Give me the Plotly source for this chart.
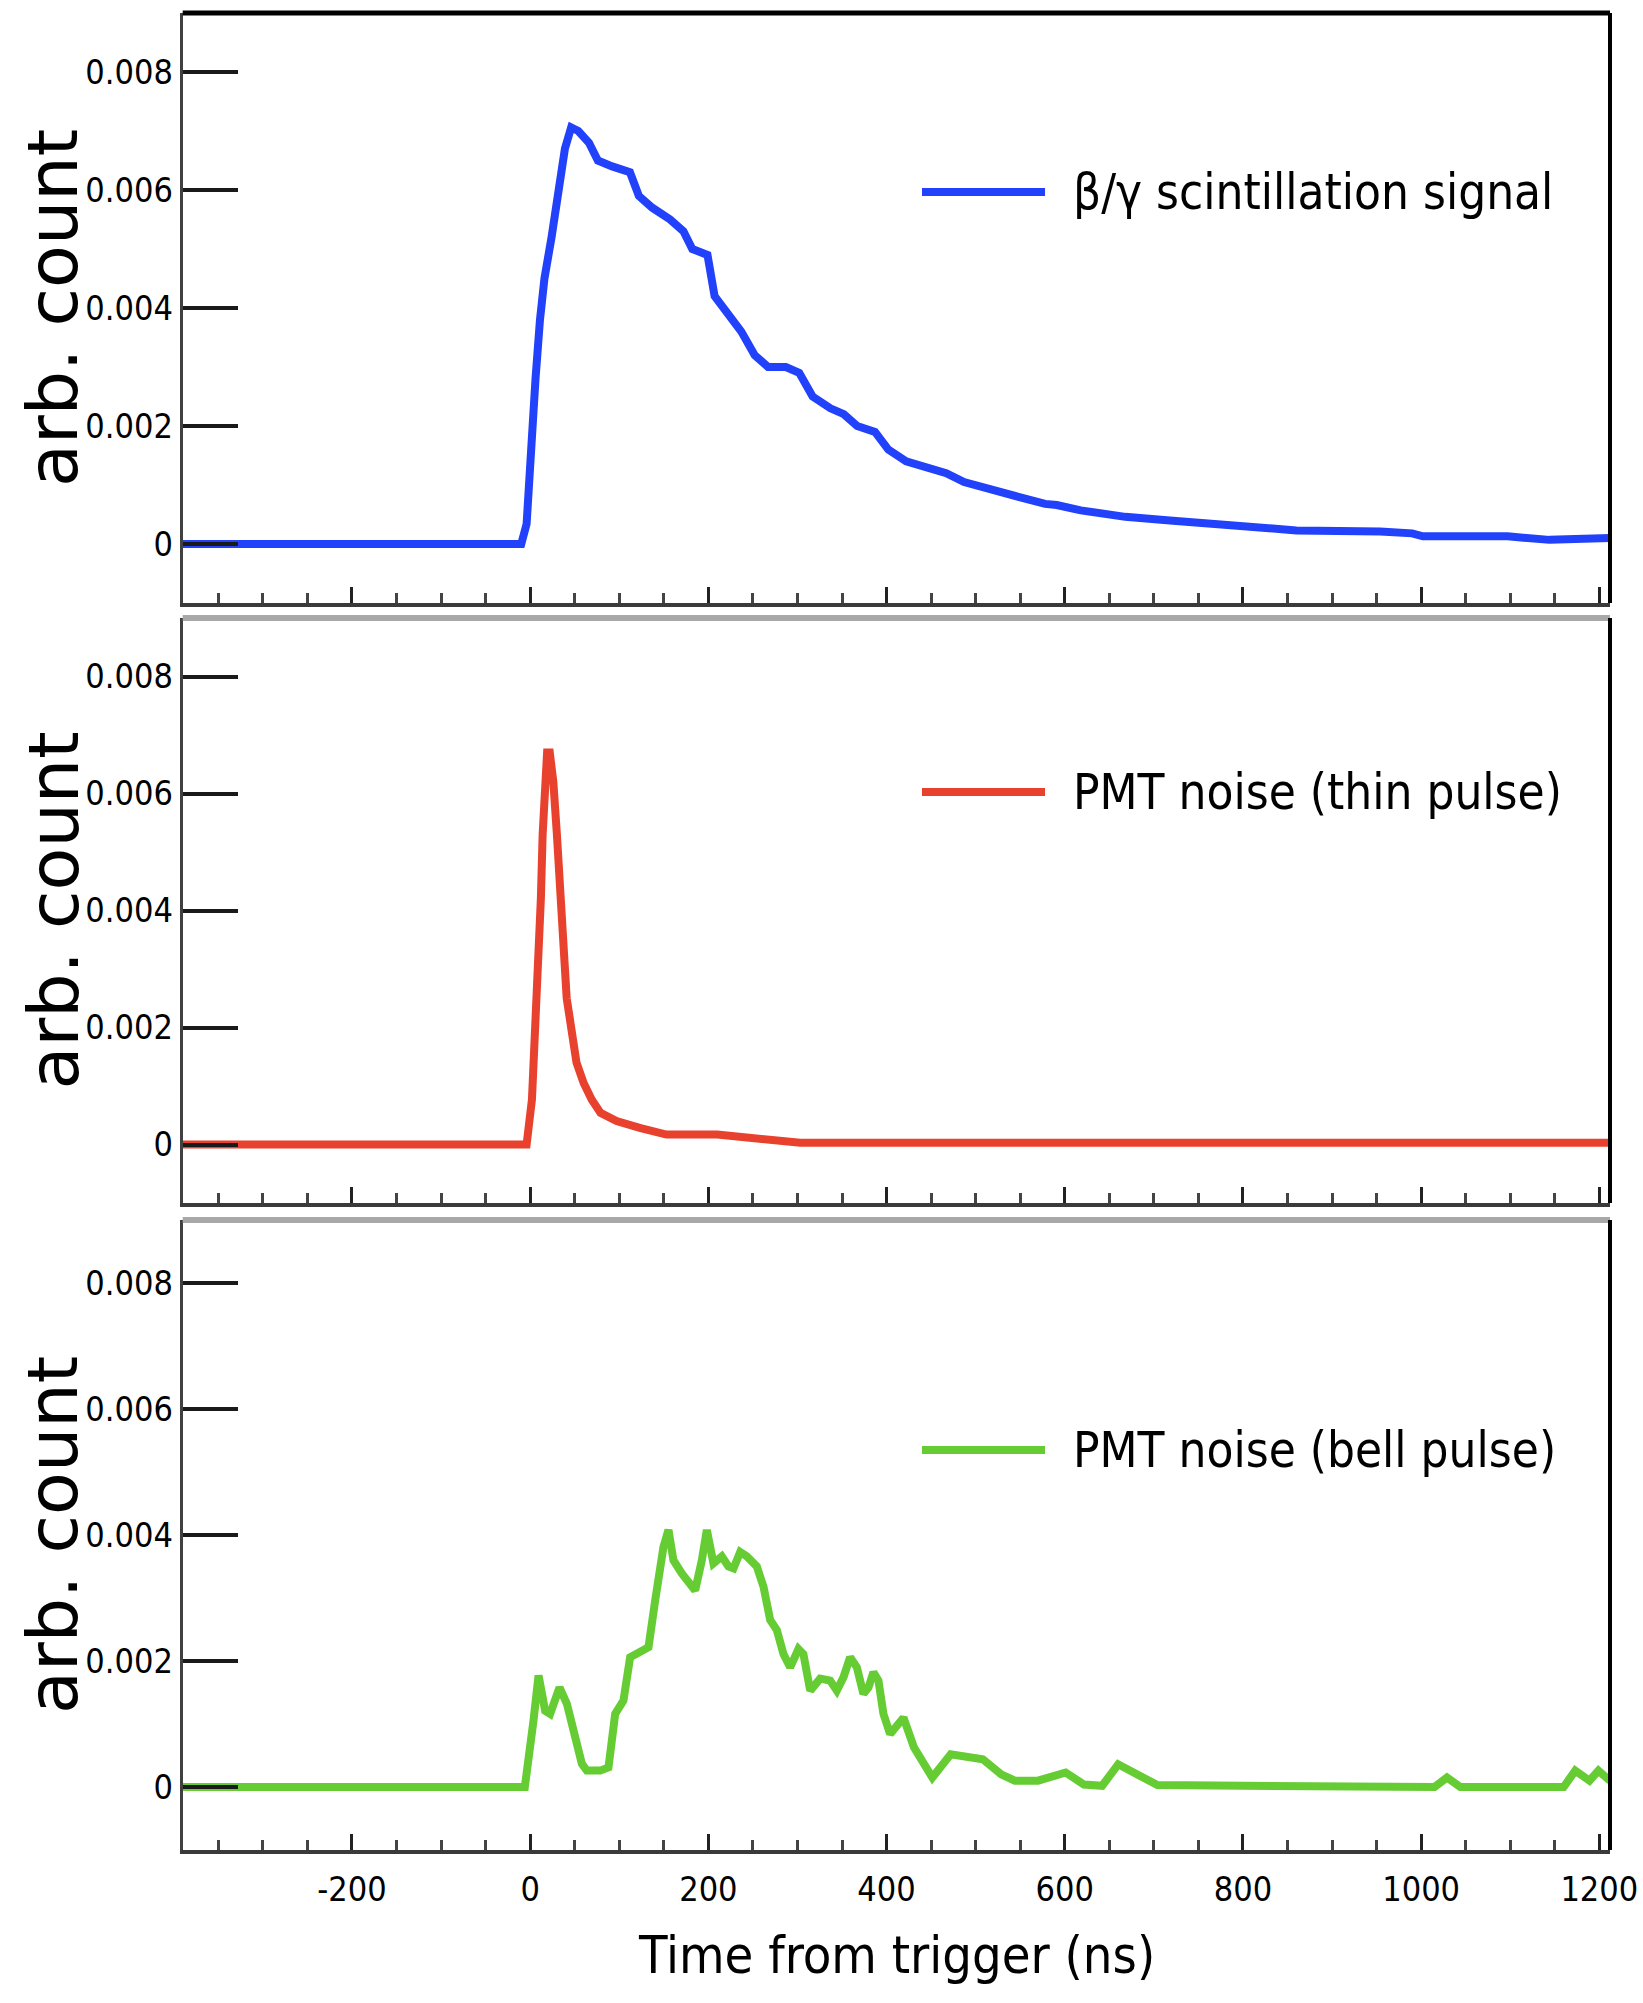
import plotly.graph_objects as go

# ---------------- data ----------------
beta_t = [-390, -10, -4, 1, 6, 11, 16, 24, 31, 39, 46, 54, 66, 76, 92, 112, 122, 137, 157, 172,
          182, 199, 207, 217, 237, 252, 267, 287, 302, 317, 337, 352, 367, 387, 402, 422, 442,
          467, 487, 518, 548, 578, 591, 618, 648, 668, 718, 775, 810, 860, 954, 990, 1002,
          1097, 1144, 1212]
beta_v = [0, 0, 0.00034, 0.0017, 0.0028, 0.0038, 0.0045, 0.0052, 0.0059, 0.0067, 0.00706, 0.0070,
          0.0068, 0.0065, 0.0064, 0.0063, 0.0059, 0.0057, 0.0055, 0.0053, 0.0050, 0.0049, 0.0042,
          0.0040, 0.0036, 0.0032, 0.0030, 0.0030, 0.0029, 0.0025, 0.0023, 0.0022, 0.0020, 0.0019,
          0.0016, 0.0014, 0.0013, 0.0012, 0.00105, 0.00091, 0.0008, 0.00068, 0.00066, 0.00057,
          0.00049, 0.00046, 0.0004, 0.00034, 0.0003, 0.00023, 0.00021, 0.00018, 0.00013, 0.00013,
          0.00007, 0.0001]

thin_t = [-390, -4, 2, 5.6, 9.4, 12, 14, 16, 19, 22, 26, 30, 34, 37, 41, 47, 52, 60, 69, 79, 97,
          124, 153, 210, 247, 303, 600, 900, 1212]
thin_v = [0, 0, 0.00077, 0.0019, 0.0030, 0.0042, 0.0053, 0.0062, 0.0067, 0.0067, 0.0062, 0.0053,
          0.0044, 0.0033, 0.0025, 0.0019, 0.0014, 0.00105, 0.00077, 0.00054, 0.0004, 0.00028,
          0.00017, 0.00017, 0.00011, 0.00003, 0.00003, 0.00003, 0.00003]

bell_t = [-390, -6, 3.7, 9.4, 16.8, 22.4, 32.9, 41.2, 58, 63.6, 78.6, 87.9, 95.4, 104.7, 112.2,
          123.5, 132.8, 140.3, 149.6, 155.2, 160.8, 170.2, 177.7, 185.2, 192.7, 198.3, 205.7,
          215.1, 222.6, 228.2, 235.7, 243.2, 254.4, 261.9, 269.4, 276.9, 284.3, 291.8, 301.1,
          306.7, 314.3, 325.5, 336.7, 344.2, 351.6, 359.1, 366.7, 374, 379.7, 385.3, 390.9,
          396.5, 404, 411.6, 419, 430.7, 451.4, 472, 492.6, 508, 528.7, 544, 570, 601, 621.5,
          642, 660, 683.4, 704, 1015, 1029, 1044, 1160, 1173, 1189, 1199, 1212]
bell_v = [0, 0, 0.00105, 0.00177, 0.00121, 0.00116, 0.00158, 0.00132, 0.00037, 0.00026, 0.00026,
          0.00031, 0.00116, 0.00137, 0.00206, 0.00214, 0.00222, 0.00296, 0.00381, 0.00408, 0.0036,
          0.00339, 0.00323, 0.00312, 0.0036, 0.00408, 0.00355, 0.00366, 0.0035, 0.00347, 0.00373,
          0.00366, 0.0035, 0.00318, 0.00265, 0.00249, 0.00211, 0.0019, 0.00219, 0.00211, 0.00153,
          0.00172, 0.00169, 0.00153, 0.00174, 0.00206, 0.0019, 0.00148, 0.00158, 0.00182, 0.00169,
          0.00116, 0.00084, 0.00097, 0.0011, 0.00063, 0.00015, 0.00052, 0.00047, 0.00044, 0.0002,
          0.0001, 0.0001, 0.00023, 0.00004, 0.00002, 0.00036, 0.0002, 0.00003, 0.0, 0.00015, 0.0,
          0.0, 0.00026, 0.0001, 0.00026, 0.0001]

series_names = ["\u03b2/\u03b3 scintillation signal", "PMT noise (thin pulse)", "PMT noise (bell pulse)"]
series_colors = ["#2141fb", "#e8412e", "#66cc33"]

y_tickvals = [0, 0.002, 0.004, 0.006, 0.008]
y_ticktext = ["0", "0.002", "0.004", "0.006", "0.008"]
x_tickvals = [-200, 0, 200, 400, 600, 800, 1000, 1200]
x_ticktext = ["-200", "0", "200", "400", "600", "800", "1000", "1200"]
x_range = [-390, 1212]
y_range = [-0.001, 0.009]

x_title = "Time from trigger (ns)"
y_title = "arb. count"

# ---------------- layout ----------------
W, H = 1643, 2003
FONT = "DejaVu Sans Condensed, Liberation Sans, Arial, sans-serif"
x_dom = [182.7 / W, 1610 / W]
panels_px = [(13, 603), (618, 1203), (1220, 1850)]  # top, bottom in pixels
y_doms = [[1 - b / H, 1 - t / H] for t, b in panels_px]
legend_y_px = [192, 792, 1450]

fig = go.Figure()
datasets = [(beta_t, beta_v), (thin_t, thin_v), (bell_t, bell_v)]
for i, (t, v) in enumerate(datasets):
    sfx = "" if i == 0 else str(i + 1)
    fig.add_trace(go.Scatter(x=t, y=v, mode="lines", name=series_names[i],
                             line=dict(color=series_colors[i], width=8),
                             xaxis="x" + sfx, yaxis="y" + sfx, showlegend=False))

layout = dict(width=W, height=H, autosize=False,
              margin=dict(l=0, r=0, t=0, b=0, pad=0, autoexpand=False),
              paper_bgcolor="white", plot_bgcolor="white",
              font=dict(family=FONT, color="black"),
              shapes=[], annotations=[])

for i in range(3):
    sfx = "" if i == 0 else str(i + 1)
    layout["xaxis" + sfx] = dict(
        domain=x_dom, range=x_range, anchor="y" + sfx, automargin=False,
        showgrid=False, zeroline=False,
        showline=True, linecolor="#3a3a3a", linewidth=4,
        ticks="inside", ticklen=16, tickwidth=3, tickcolor="#222",
        tickvals=x_tickvals, ticktext=x_ticktext,
        showticklabels=(i == 2), ticklabeloverflow="allow", ticklabelstandoff=6,
        tickfont=dict(family=FONT, size=34, color="black"),
        minor=dict(tick0=0, dtick=50, ticks="inside", ticklen=10, tickwidth=3, tickcolor="#444"),
        matches=None if i == 0 else "x",
    )
    layout["yaxis" + sfx] = dict(
        domain=y_doms[i], range=y_range, anchor="x" + sfx, automargin=False,
        showgrid=False, zeroline=False,
        showline=True, linecolor="#404040", linewidth=3,
        ticks="inside", ticklen=55, tickwidth=4, tickcolor="#1a1a1a",
        tickvals=y_tickvals, ticktext=y_ticktext,
        tickfont=dict(family=FONT, size=34, color="black"),
    )
    # frame: top and right borders
    top_col = "black" if i == 0 else "#a8a8a8"
    top_w = 5 if i == 0 else 6
    layout["shapes"].append(dict(type="line", xref="x" + sfx + " domain", yref="y" + sfx + " domain",
                                 x0=0, x1=1, y0=1, y1=1, line=dict(color=top_col, width=top_w)))
    layout["shapes"].append(dict(type="line", xref="x" + sfx + " domain", yref="y" + sfx + " domain",
                                 x0=1, x1=1, y0=0, y1=1, line=dict(color="black", width=4)))
    # legend sample line + text
    ly = 1 - legend_y_px[i] / H
    layout["shapes"].append(dict(type="line", xref="paper", yref="paper",
                                 x0=922 / W, x1=1045 / W, y0=ly, y1=ly,
                                 line=dict(color=series_colors[i], width=8)))
    layout["annotations"].append(dict(text=series_names[i], xref="paper", yref="paper",
                                      x=1071 / W, y=ly, xanchor="left", yanchor="middle",
                                      showarrow=False, font=dict(family=FONT, size=49, color="black")))
    # y-axis title
    layout["annotations"].append(dict(text=y_title, xref="paper", yref="y" + sfx + " domain",
                                      x=53 / W, y=0.5, xanchor="center", yanchor="middle",
                                      textangle=-90, showarrow=False,
                                      font=dict(family="DejaVu Sans, sans-serif", size=70, color="black")))

layout["annotations"].append(dict(text=x_title, xref="paper", yref="paper",
                                  x=896 / W, y=1 - 1955 / H, xanchor="center", yanchor="middle",
                                  showarrow=False, font=dict(family=FONT, size=52, color="black")))

fig.update_layout(**layout)
fig.write_html("out.html")
